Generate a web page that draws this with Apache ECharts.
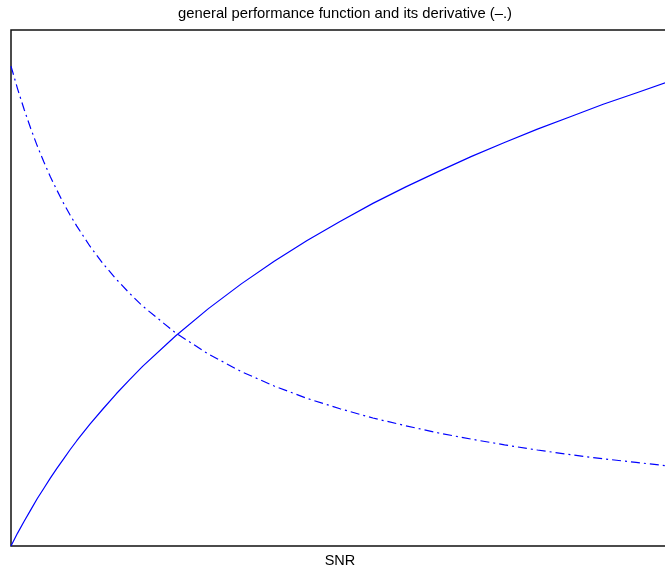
<!DOCTYPE html>
<html>
<head>
<meta charset="utf-8">
<script src="https://cdn.jsdelivr.net/npm/echarts@6/dist/echarts.min.js"></script>
<style>
  html, body { margin: 0; padding: 0; background: #fff; }
  #chart { width: 665px; height: 566px; }
</style>
</head>
<body>
<div id="chart"></div>
<script>
// values (y normalised to the box height)
const snr = [0, 0.05, 0.1, 0.15, 0.2, 0.25, 0.3, 0.35, 0.4, 0.45, 0.5, 0.6, 0.7, 0.8, 0.9, 1,
    1.25, 1.5, 1.75, 2, 2.25, 2.5, 2.75, 3, 3.25, 3.5, 3.75, 4, 4.25, 4.5, 4.75, 5];
const perf = [0, 0.025, 0.048, 0.070, 0.092, 0.112, 0.132, 0.151, 0.169, 0.187, 0.204, 0.236, 0.266, 0.295, 0.322, 0.348,
    0.407, 0.460, 0.508, 0.552, 0.592, 0.629, 0.664, 0.696, 0.726, 0.755, 0.782, 0.808, 0.832, 0.856, 0.878, 0.900];
const deriv = [0.930, 0.886, 0.846, 0.809, 0.775, 0.744, 0.715, 0.689, 0.664, 0.641, 0.620, 0.581, 0.547, 0.517, 0.490, 0.465,
    0.413, 0.372, 0.338, 0.310, 0.286, 0.266, 0.248, 0.233, 0.219, 0.207, 0.196, 0.186, 0.177, 0.169, 0.162, 0.155];

const pairs = (ys) => snr.map((x, i) => [x, ys[i]]);

const chart = echarts.init(document.getElementById('chart'));
chart.setOption({
    animation: false,
    textStyle: { fontFamily: 'Liberation Sans, Arial, sans-serif' },
    title: {
        text: 'general performance function and its derivative (\u2013.)',
        left: 340,
        top: 1,
        textAlign: 'center',
        textStyle: { fontSize: 14.8, fontWeight: 'normal', color: '#000' }
    },
    grid: {
        left: 11, top: 30, width: 658, height: 516,
        outerBoundsMode: 'none', containLabel: false,
        show: true, borderColor: '#111', borderWidth: 1.5
    },
    xAxis: {
        type: 'value', min: 0, max: 5,
        name: 'SNR', nameLocation: 'middle', nameGap: 7,
        nameTextStyle: { fontSize: 14.5, color: '#000', verticalAlign: 'top' },
        axisLine: { show: false }, axisTick: { show: false },
        axisLabel: { show: false }, splitLine: { show: false }
    },
    yAxis: {
        type: 'value', min: 0, max: 1,
        axisLine: { show: false }, axisTick: { show: false },
        axisLabel: { show: false }, splitLine: { show: false }
    },
    series: [
        {
            type: 'line', data: pairs(perf), showSymbol: false, smooth: false,
            lineStyle: { color: '#0000ff', width: 1.2 }
        },
        {
            type: 'line', data: pairs(deriv), showSymbol: false, smooth: false,
            lineStyle: { color: '#0000ff', width: 1.2, type: [9, 4, 2, 4] }
        }
    ]
});
</script>
</body>
</html>
